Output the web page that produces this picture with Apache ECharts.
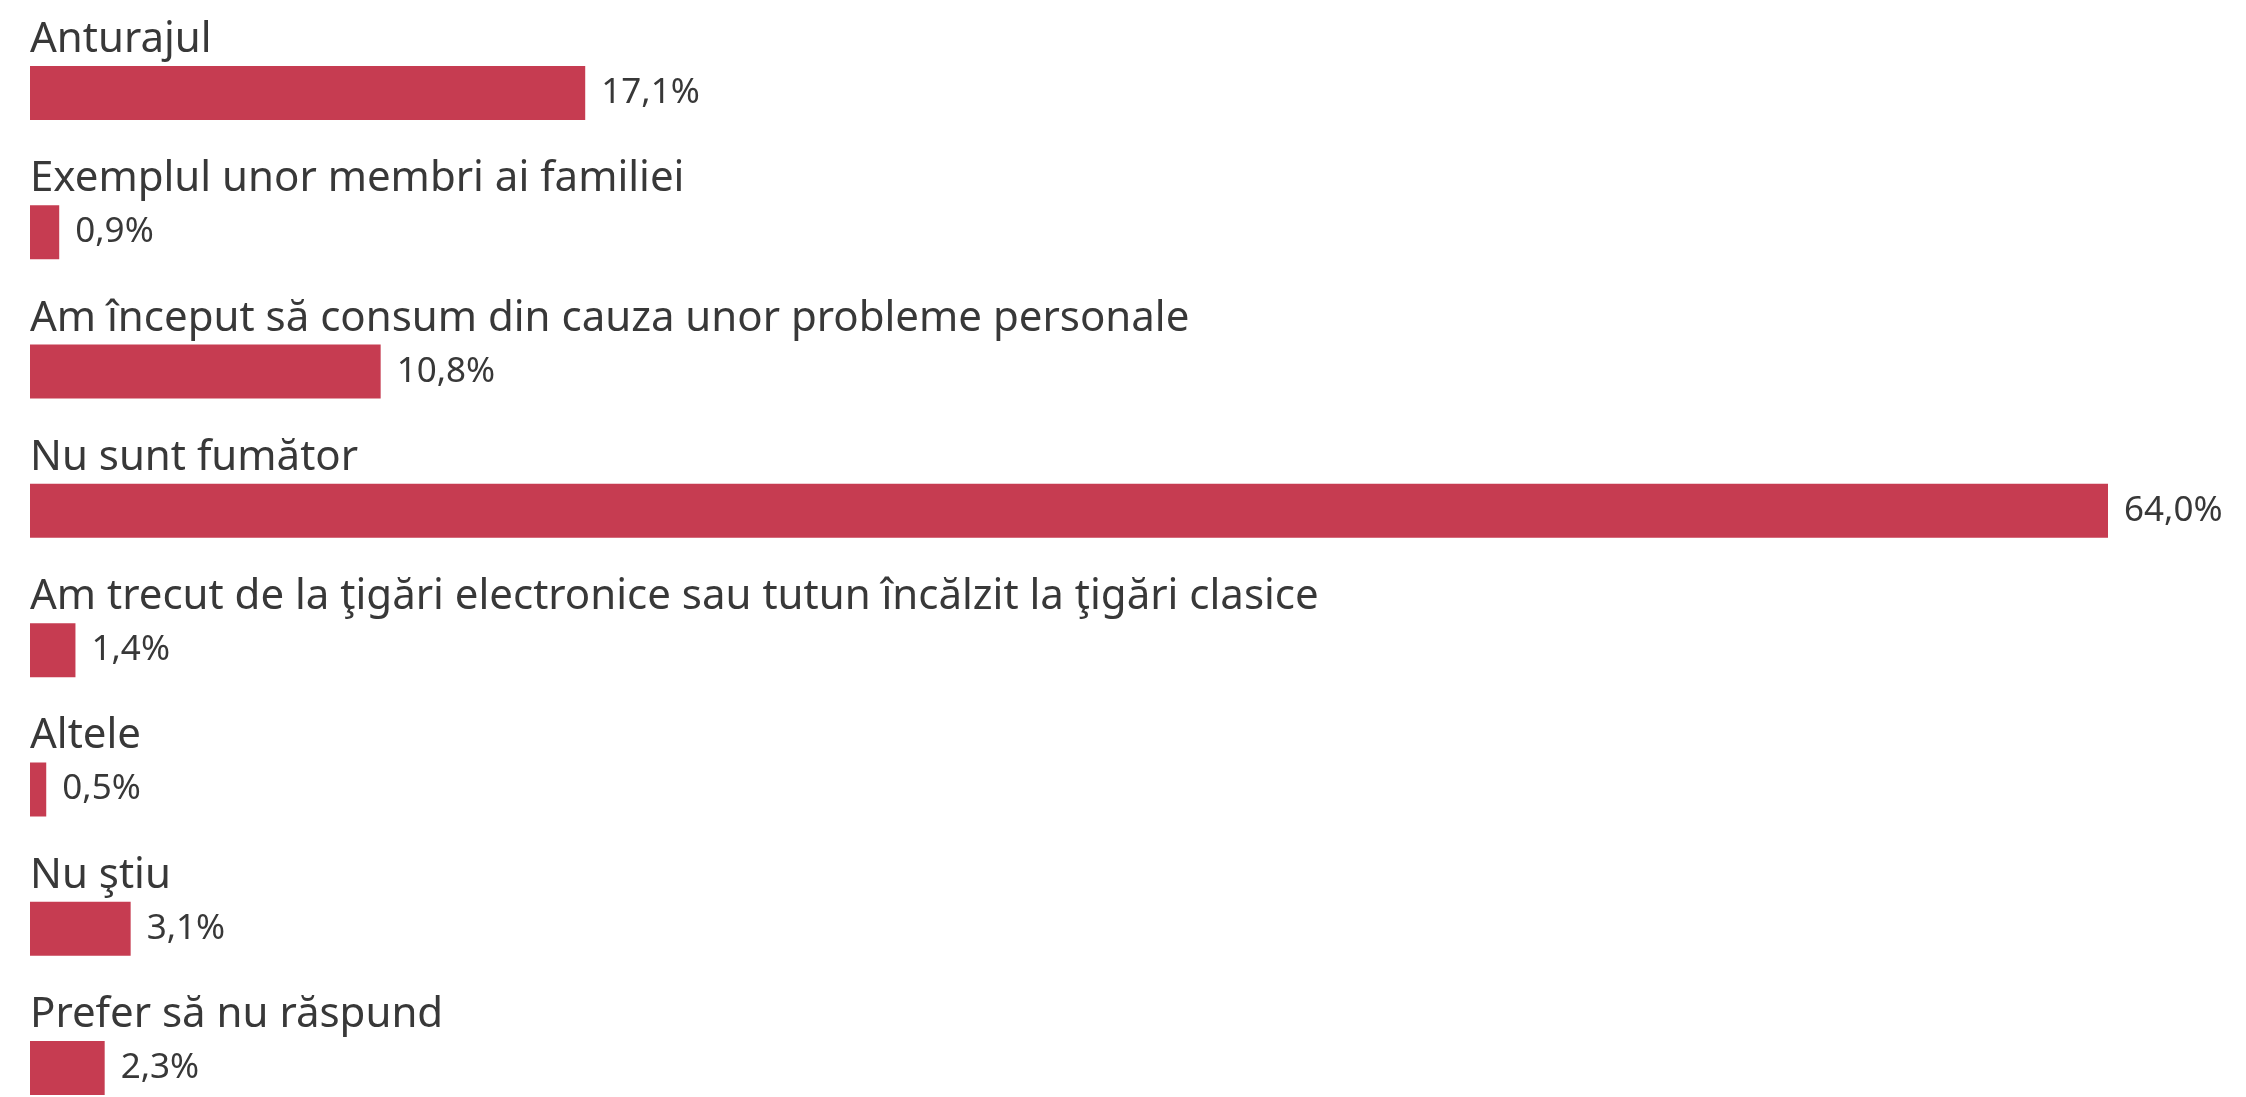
<!DOCTYPE html>
<html>
<head>
<meta charset="utf-8">
<script src="https://cdn.jsdelivr.net/npm/echarts@6/dist/echarts.min.js"></script>
<style>
html,body{margin:0;padding:0;background:#fff;overflow:hidden;}
#chart{width:2246px;height:1097px;}
</style>
</head>
<body>
<div id="chart"></div>
<script>
const categories = [
  "Anturajul",
  "Exemplul unor membri ai familiei",
  "Am început să consum din cauza unor probleme personale",
  "Nu sunt fumător",
  "Am trecut de la ţigări electronice sau tutun încălzit la ţigări clasice",
  "Altele",
  "Nu ştiu",
  "Prefer să nu răspund"
];
const values = [17.1, 0.9, 10.8, 64.0, 1.4, 0.5, 3.1, 2.3];

const chart = echarts.init(document.getElementById('chart'), null, {renderer: 'canvas'});
const FONT = '"Noto Sans", sans-serif';
chart.setOption({
  animation: false,
  backgroundColor: '#ffffff',
  grid: {left: 30, top: 93, width: 2078, height: 984, containLabel: false},
  xAxis: {
    type: 'value', min: 0, max: 64,
    show: false
  },
  yAxis: {
    type: 'category',
    data: categories,
    inverse: true,
    boundaryGap: false,
    axisLine: {show: false},
    axisTick: {show: false},
    splitLine: {show: false},
    axisLabel: {
      inside: true,
      margin: 0,
      align: 'left',
      verticalAlign: 'middle',
      formatter: v => '{t|' + v + '}\n{s| }',
      rich: {
        t: {fontFamily: FONT, fontSize: 42, lineHeight: 48, color: '#383838'},
        s: {fontSize: 10, lineHeight: 106}
      }
    }
  },
  series: [{
    type: 'bar',
    data: values,
    barWidth: 54,
    itemStyle: {color: '#c63c51'},
    label: {
      show: true,
      position: 'right',
      distance: 16,
      fontFamily: FONT,
      fontSize: 35,
      color: '#383838',
      formatter: p => p.value.toFixed(1).replace('.', ',') + '%'
    }
  }]
});
</script>
</body>
</html>
